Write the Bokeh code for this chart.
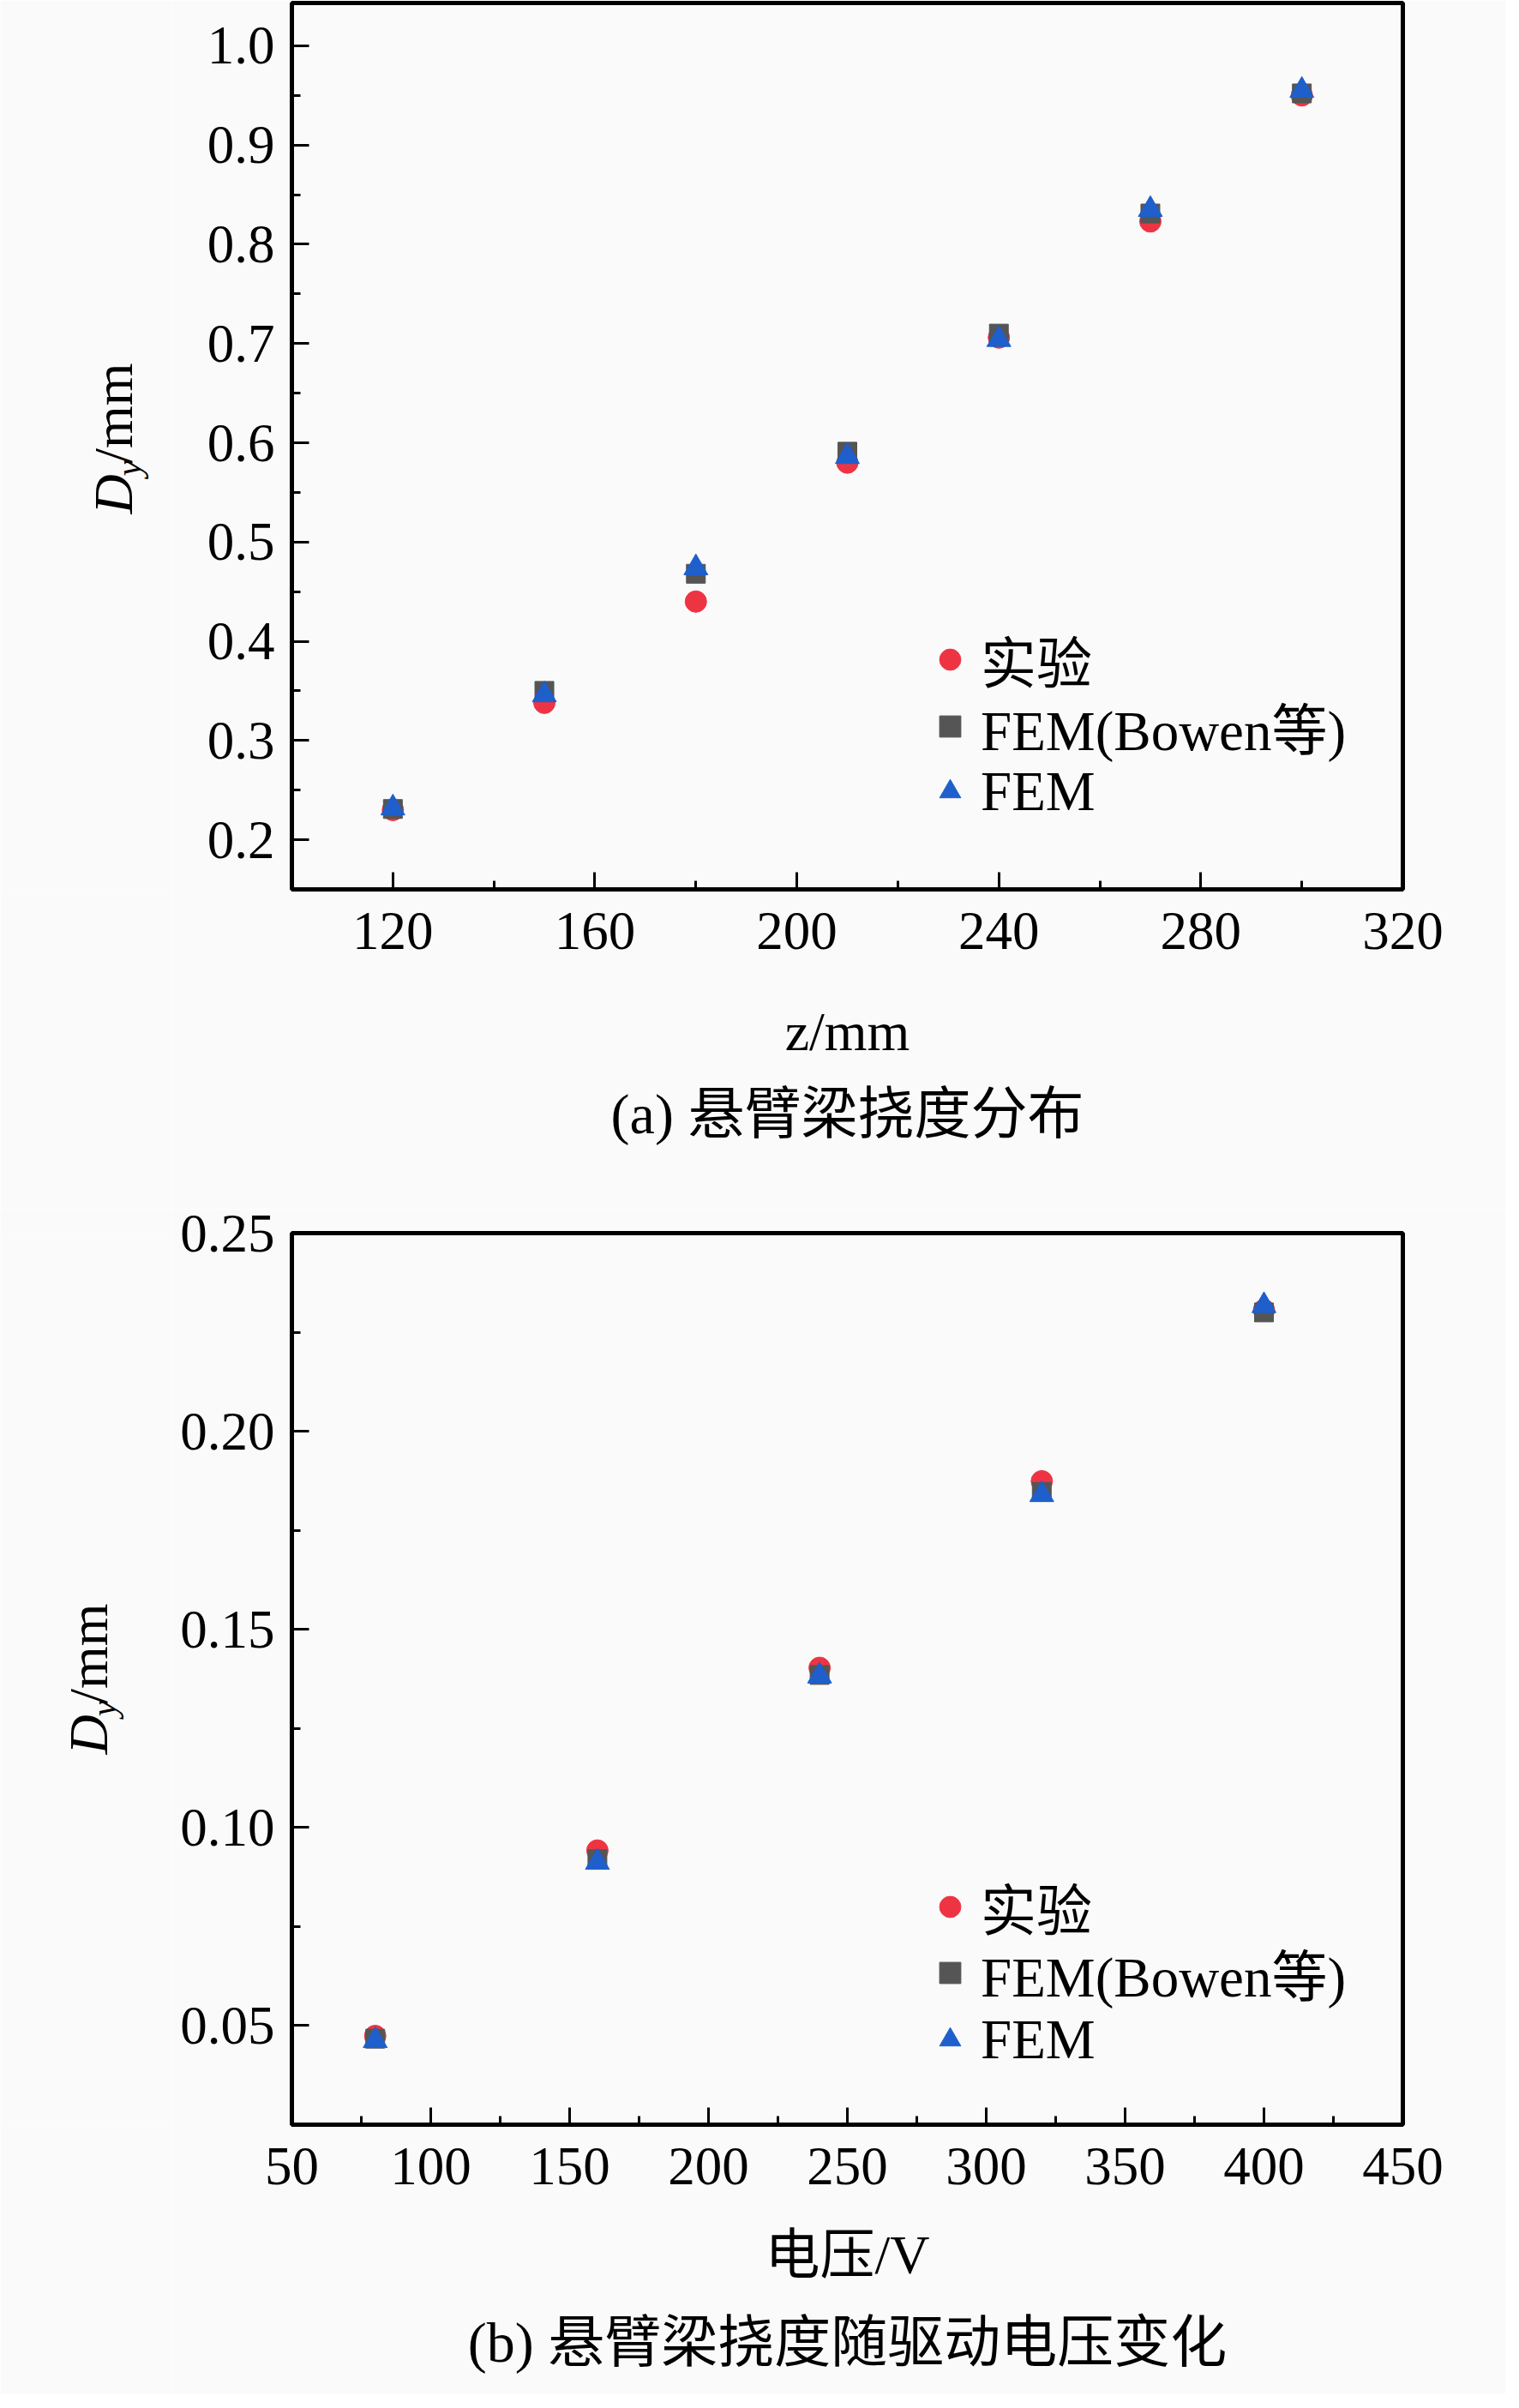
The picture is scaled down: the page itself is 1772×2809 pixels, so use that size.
import math
from bokeh.plotting import figure
from bokeh.models import (FixedTicker, NumeralTickFormatter, Legend, LegendItem,
                          Range1d, Title)
from bokeh.core.properties import value
from bokeh.layouts import column, row
from bokeh.embed import file_html
from bokeh.resources import INLINE

# ---------------- data ----------------
series_labels = ["实验", "FEM(Bowen等)", "FEM"]

# panel (a): deflection along the beam
z_mm = [120, 150, 180, 210, 240, 270, 300]
dy_exp_a = [0.230, 0.338, 0.440, 0.580, 0.706, 0.823, 0.950]
dy_bowen_a = [0.231, 0.350, 0.468, 0.591, 0.710, 0.831, 0.952]
dy_fem_a = [0.232, 0.346, 0.474, 0.586, 0.704, 0.835, 0.955]

# panel (b): deflection vs driving voltage
voltage_v = [80, 160, 240, 320, 400]
dy_exp_b = [0.0474, 0.0942, 0.1403, 0.1874, 0.2306]
dy_bowen_b = [0.0467, 0.0920, 0.1385, 0.1847, 0.2300]
dy_fem_b = [0.0462, 0.0912, 0.1382, 0.1840, 0.2317]

# ticks
a_x_major = [120, 160, 200, 240, 280, 320]
a_x_minor = [140, 180, 220, 260, 300]
a_y_major = [0.2, 0.3, 0.4, 0.5, 0.6, 0.7, 0.8, 0.9, 1.0]
a_y_minor = [0.25, 0.35, 0.45, 0.55, 0.65, 0.75, 0.85, 0.95]
b_x_major = [50, 100, 150, 200, 250, 300, 350, 400, 450]
b_x_minor = [75, 125, 175, 225, 275, 325, 375, 425]
b_y_major = [0.05, 0.10, 0.15, 0.20, 0.25]
b_y_minor = [0.075, 0.125, 0.175, 0.225]

captions = ["(a) 悬臂梁挠度分布", "(b) 悬臂梁挠度随驱动电压变化"]
x_titles = ["z/mm", "电压/V"]
y_title_parts = ["D", "y", "/mm"]

# ---------------- style ----------------
SERIF = "'Liberation Serif', 'Noto Sans CJK SC'"
BG = "#fafafa"
RED = "#ee3443"
GRAY = "#555555"
BLUE = "#1e5fcc"
TITLE_W = 200
MAIN_W = 1756 - TITLE_W
ROW_BOX = 100
PX_PER_UNIT_A = 1042 / 0.9      # vertical scale of panel (a), pixels per mm


def y_title_fig(height, frame_h, center, baseline_x):
    """Narrow companion figure that carries the rotated y-axis title.
    In a row its frame is aligned with the main frame, so its y data units
    are pixels above the main frame's bottom edge."""
    t = figure(width=TITLE_W, height=height, title=None,
               x_range=Range1d(0, TITLE_W), y_range=Range1d(0, frame_h),
               x_axis_type=None, y_axis_type=None,
               output_backend="svg", toolbar_location=None,
               min_border_left=0, min_border_right=0,
               min_border_top=0, min_border_bottom=0)
    t.background_fill_color = BG
    t.border_fill_color = BG
    t.outline_line_color = None
    t.grid.visible = False
    f_main, f_sub = 64, 42
    w_d, w_y, w_rest = 0.722 * f_main, 0.444 * f_sub, 1.834 * f_main
    mid_main, mid_sub = 0.3375 * f_main, 0.3375 * f_sub
    y0 = center - (w_d + w_y + w_rest - 6) / 2
    common = dict(angle=math.pi / 2, text_align="center",
                  text_baseline="middle", text_font=value(SERIF),
                  text_color="black")
    t.text(x=[baseline_x - mid_main], y=[y0 + w_d / 2], text=[y_title_parts[0]],
           text_font_style="italic", text_font_size=f"{f_main}px", **common)
    t.text(x=[baseline_x + 10 - mid_sub], y=[y0 + w_d - 2 + w_y / 2],
           text=[y_title_parts[1]], text_font_style="italic",
           text_font_size=f"{f_sub}px", **common)
    t.text(x=[baseline_x - mid_main], y=[y0 + w_d + w_y - 6 + w_rest / 2],
           text=[y_title_parts[2]], text_font_style="normal",
           text_font_size=f"{f_main}px", **common)
    return t


def make_panel(xs, ys_list, x_range, y_range, x_major, x_minor, y_major, y_minor,
               y_fmt, height, border_top, frame_h, legend_rows, xlabel_standoff,
               cap_standoff, x_title, caption, cap_size):
    border_bottom = height - border_top - frame_h
    p = figure(width=MAIN_W, height=height, title=None,
               x_range=Range1d(*x_range), y_range=Range1d(*y_range),
               output_backend="svg", toolbar_location=None,
               min_border_left=348 - 8 - TITLE_W, min_border_right=120,
               min_border_top=border_top, min_border_bottom=border_bottom)
    p.background_fill_color = BG
    p.border_fill_color = BG
    p.outline_line_color = "black"
    p.outline_line_width = 5
    p.xgrid.visible = False
    p.ygrid.visible = False

    for ax, major, minor, fmt in ((p.xaxis[0], x_major, x_minor, "0"),
                                  (p.yaxis[0], y_major, y_minor, y_fmt)):
        ax.ticker = FixedTicker(ticks=major, minor_ticks=minor)
        ax.formatter = NumeralTickFormatter(format=fmt)
        ax.axis_line_width = 5
        ax.axis_line_color = "black"
        ax.major_tick_in = 20
        ax.major_tick_out = 0
        ax.minor_tick_in = 10
        ax.minor_tick_out = 0
        ax.major_tick_line_width = 3
        ax.minor_tick_line_width = 3
        ax.major_tick_line_color = "black"
        ax.minor_tick_line_color = "black"
        ax.major_label_text_font = SERIF
        ax.major_label_text_font_size = "63px"
        ax.major_label_text_color = "black"
    p.xaxis[0].major_label_standoff = 27
    p.yaxis[0].major_label_standoff = 20

    xa = p.xaxis[0]
    xa.axis_label = x_title
    xa.axis_label_text_font = SERIF
    xa.axis_label_text_font_size = "64px"
    xa.axis_label_text_font_style = "normal"
    xa.axis_label_text_color = "black"
    xa.axis_label_standoff = xlabel_standoff

    r_exp = p.scatter(xs, ys_list[0], marker="circle", size=25,
                      fill_color=RED, line_color=RED, line_width=1)
    r_bow = p.scatter(xs, ys_list[1], marker="square", size=22,
                      fill_color=GRAY, line_color=GRAY, line_width=1)
    r_fem = p.scatter(xs, ys_list[2], marker="triangle", size=28,
                      fill_color=BLUE, line_color=BLUE, line_width=1)

    # one legend per row so that every row has the same fixed box height
    for lbl, rend, row_c in zip(series_labels, (r_exp, r_bow, r_fem), legend_rows):
        lg = Legend(items=[LegendItem(label=lbl, renderers=[rend])],
                    location=(737, row_c - ROW_BOX / 2), orientation="vertical",
                    padding=0, margin=0, spacing=0,
                    glyph_width=62, glyph_height=ROW_BOX, label_height=ROW_BOX,
                    label_standoff=5, label_text_font=SERIF,
                    label_text_font_size="65px", label_text_color="black",
                    border_line_color=None, background_fill_alpha=0)
        p.add_layout(lg, "center")

    cap = Title(text=caption, align="center", text_font=SERIF,
                text_font_size=f"{cap_size}px", text_font_style="normal",
                text_color="black", standoff=cap_standoff)
    p.add_layout(cap, "below")
    return p


# panel (a): the page margin hides the top 8 px of the original frame
HA, BTA, FHA = 1410, 3, 1034
a_y_range = (0.15, 0.15 + FHA / PX_PER_UNIT_A)
# panel (b)
HB, BTB, FHB = 1383, 28, 1042

pa = make_panel(z_mm, [dy_exp_a, dy_bowen_a, dy_fem_a], (100, 320), a_y_range,
                a_x_major, a_x_minor, a_y_major, a_y_minor, "0.0",
                height=HA, border_top=BTA, frame_h=FHA,
                legend_rows=(268, 190, 114),
                xlabel_standoff=58, cap_standoff=38,
                x_title=x_titles[0], caption=captions[0], cap_size=66)
pb = make_panel(voltage_v, [dy_exp_b, dy_bowen_b, dy_fem_b], (50, 450), (0.025, 0.25),
                b_x_major, b_x_minor, b_y_major, b_y_minor, "0.00",
                height=HB, border_top=BTB, frame_h=FHB,
                legend_rows=(254, 177, 99),
                xlabel_standoff=44, cap_standoff=50,
                x_title=x_titles[1], caption=captions[1], cap_size=66)
ta = y_title_fig(HA, FHA, 526, 162 - 8)
tb = y_title_fig(HB, FHB, FHB / 2, 133 - 8)

layout = column(row(ta, pa, spacing=0), row(tb, pb, spacing=0), spacing=0)
open("out.html", "w").write(file_html(layout, INLINE))
